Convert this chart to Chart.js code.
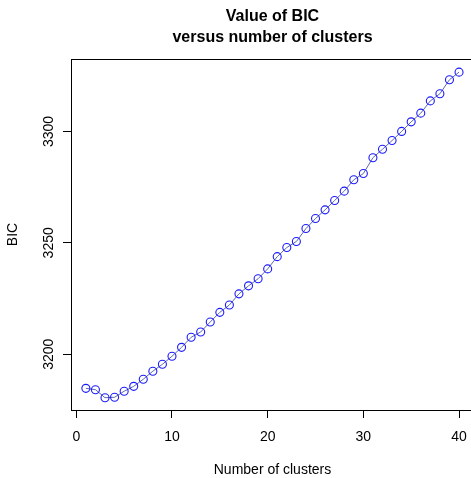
<!DOCTYPE html>
<html>
<head>
<meta charset="utf-8">
<script src="https://cdn.jsdelivr.net/npm/chart.js@4.4.0/dist/chart.umd.min.js"></script>
<style>
  html, body { margin: 0; padding: 0; background: #fff; }
  canvas { display: block; }
</style>
</head>
<body>
<canvas id="grafico" width="471" height="478"></canvas>
<script>
// numero de clusters y su BIC
const clusters = [];
for (let k = 1; k <= 40; k++) clusters.push(k);
const bic = [
  3184.7, 3184.1, 3180.5, 3180.7, 3183.4, 3185.6, 3188.8, 3192.4, 3195.5, 3199.1,
  3203.1, 3207.6, 3210.0, 3214.5, 3218.8, 3222.1, 3227.1, 3230.7, 3233.9, 3238.3,
  3243.8, 3247.9, 3250.6, 3256.4, 3260.9, 3264.8, 3269.0, 3273.2, 3278.3, 3281.1,
  3288.2, 3292.0, 3295.9, 3300.0, 3304.3, 3308.2, 3313.7, 3316.9, 3323.2, 3326.6
];
const xTicks = [0, 10, 20, 30, 40];
const yTicks = [3200, 3250, 3300];

const titulo = ["Value of BIC", "versus number of clusters"];
const tituloX = "Number of clusters";
const tituloY = "BIC";

const fuente = "'Liberation Sans', Arial, Helvetica, sans-serif";

// dibuja el marco de arriba, titulos y etiquetas de los ejes (rotadas en y como en R)
const textosR = {
  id: "textosR",
  afterDraw(chart) {
    const ctx = chart.ctx;
    const area = chart.chartArea;
    const xScale = chart.scales.x;
    const yScale = chart.scales.y;
    const cx = (area.left + 474) / 2;

    ctx.save();
    ctx.strokeStyle = "#000";
    ctx.lineWidth = 1;
    ctx.beginPath();
    ctx.moveTo(area.left, Math.round(area.top) + 0.5);
    ctx.lineTo(area.right, Math.round(area.top) + 0.5);
    ctx.stroke();

    ctx.fillStyle = "#000";
    ctx.textAlign = "center";
    ctx.textBaseline = "alphabetic";
    ctx.font = "bold 16px " + fuente;
    ctx.fillText(titulo[0], cx, 20.5);
    ctx.fillText(titulo[1], cx, 41.5);

    ctx.font = "14px " + fuente;
    ctx.fillText(tituloX, cx, 474);

    xTicks.forEach((v) => {
      ctx.fillText(String(v), xScale.getPixelForValue(v), 440.5);
    });

    yTicks.forEach((v) => {
      const py = yScale.getPixelForValue(v);
      ctx.save();
      ctx.translate(52.5, py);
      ctx.rotate(-Math.PI / 2);
      ctx.fillText(String(v), 0, 0);
      ctx.restore();
    });

    ctx.save();
    ctx.translate(17, (area.top + area.bottom) / 2);
    ctx.rotate(-Math.PI / 2);
    ctx.fillText(tituloY, 0, 0);
    ctx.restore();
    ctx.restore();
  }
};

const config = {
  type: "line",
  data: {
    labels: clusters,
    datasets: [
      {
        data: clusters.map((k, i) => ({ x: k, y: bic[i] })),
        borderColor: "#5c66b0",
        borderWidth: 1,
        pointRadius: 4,
        pointBorderWidth: 1.1,
        pointBorderColor: "#1a1aff",
        pointBackgroundColor: "rgba(0,0,0,0)",
        tension: 0,
      },
    ],
  },
  options: {
    responsive: false,
    animation: false,
    devicePixelRatio: 1,
    layout: { autoPadding: false, padding: { top: 59, left: 0, right: 0, bottom: 0 } },
    plugins: {
      legend: { display: false },
      tooltip: { enabled: false },
      title: { display: false },
    },
    scales: {
      x: {
        type: "linear",
        min: -0.554,
        max: 41.25,
        afterBuildTicks: (s) => { s.ticks = xTicks.map((v) => ({ value: v })); },
        afterFit: (s) => {
          s.height = 68;
          s.paddingLeft = 0;
          s.paddingRight = 0;
        },
        grid: { drawOnChartArea: false, tickLength: 8, color: "#000", tickWidth: 1 },
        border: { display: true, color: "#000", width: 1 },
        ticks: { display: false },
      },
      y: {
        min: 3174.98,
        max: 3332.5,
        afterBuildTicks: (s) => { s.ticks = yTicks.map((v) => ({ value: v })); },
        afterFit: (s) => {
          s.width = 71;
          s.paddingTop = 0;
          s.paddingBottom = 0;
        },
        grid: { drawOnChartArea: false, tickLength: 8, color: "#000", tickWidth: 1 },
        border: { display: true, color: "#000", width: 1 },
        ticks: { display: false },
      },
    },
  },
  plugins: [textosR],
};

new Chart(document.getElementById("grafico"), config);
</script>
</body>
</html>
